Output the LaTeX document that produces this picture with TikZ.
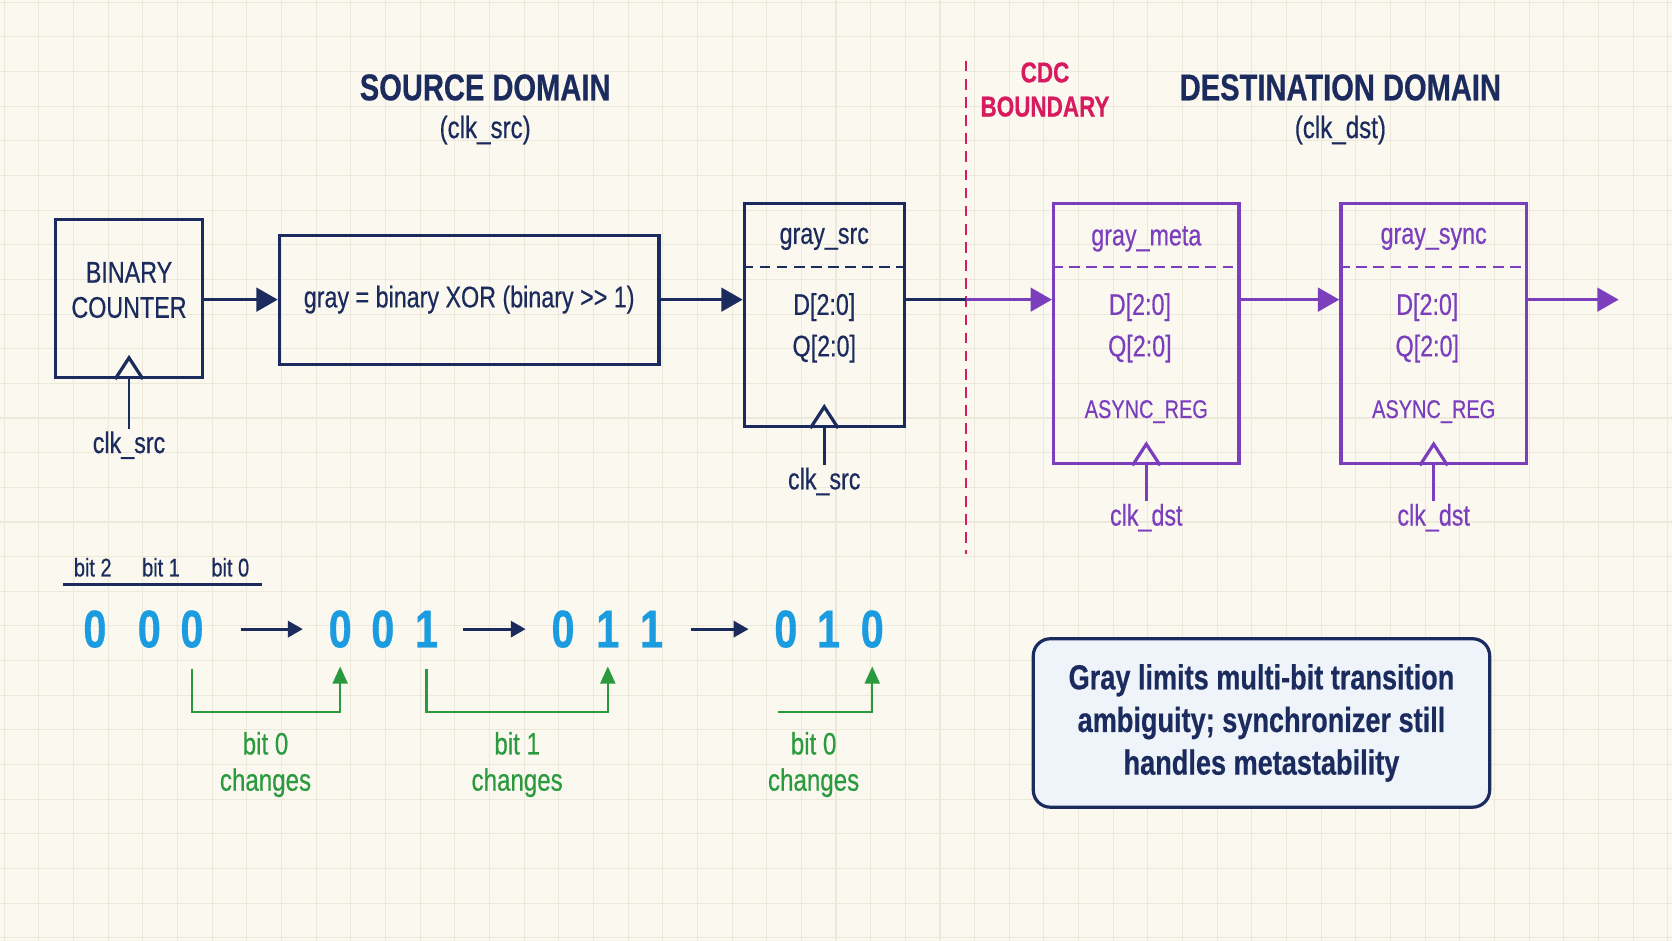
\documentclass[tikz,border=0pt]{standalone}
\usepackage{fontspec}
\setmainfont{Liberation Sans}[FakeStretch=0.78, FakeBold=0.5]
\usepackage{tikz}
\usetikzlibrary{arrows.meta}

\definecolor{navy}{HTML}{1B2B5E}
\definecolor{dstc}{HTML}{7B3FBE}
\definecolor{cdcc}{HTML}{D81B60}
\definecolor{bitc}{HTML}{1B9BE0}
\definecolor{chgc}{HTML}{2B9A3F}
\definecolor{bgc}{HTML}{FBF9EF}
\definecolor{gridc}{HTML}{ECE8DA}
\definecolor{notec}{HTML}{EEF4FA}

\begin{document}
\begin{tikzpicture}[x=0.5pt,y=-0.5pt,
    box/.style={draw=navy, line width=1.5pt, text=navy, inner sep=0pt, align=center, font=\fontsize{14}{16.5}\selectfont},
    reg/.style={box, draw=#1, text=#1}, reg/.default=navy,
    lbl/.style={inner sep=1pt, font=\fontsize{14}{16}\selectfont},
    ttl/.style={text=navy, inner sep=1pt, font=\bfseries\fontsize{17.5}{20}\selectfont},
    sub/.style={text=navy, inner sep=1pt, font=\fontsize{14.5}{17}\selectfont},
    wire/.style={line width=1.5pt, -{Triangle[length=10pt,width=11pt]}},
    digit/.style={text=bitc, inner sep=0pt, font=\bfseries\fontsize{25}{28}\selectfont},
    seqarr/.style={navy, line width=1.5pt, -{Triangle[length=7pt,width=7.5pt]}},
    chg/.style={chgc, line width=1pt, -{Triangle[length=8pt,width=7pt]}},
    chglbl/.style={text=chgc, align=center, inner sep=0pt, font=\fontsize{14.5}{17}\selectfont},
    note/.style={draw=navy, line width=1.5pt, fill=notec, rounded corners=8pt, text=navy, align=center,
        minimum width=214pt, minimum height=79pt, font=\bfseries\fontsize{16.3}{20}\selectfont}]
    % Background
    \useasboundingbox (0,0) rectangle (1568,882);
    \fill[bgc] (0,0) rectangle (1568,882);
    \foreach \g in {0,...,48}
        \draw[gridc, line width=0.5pt] (\g*32.5+4,0) -- (\g*32.5+4,882);
    \foreach \g in {0,...,27}
        \draw[gridc, line width=0.5pt] (0,\g*32.5+2) -- (1568,\g*32.5+2);

    % Titles
    \node[ttl] (srcttl) at (455,82) {SOURCE DOMAIN};
    \node[sub] (srcclk) at (455,122) {(clk\_src)};
    \node[ttl] (dstttl) at (1257,82) {DESTINATION DOMAIN};
    \node[sub] (dstclk) at (1257,122) {(clk\_dst)};
    \node[ttl, text=cdcc, align=center, font=\bfseries\fontsize{13.5}{16}\selectfont] (cdc) at (980,84) {CDC\\BOUNDARY};

    % CDC boundary
    \coordinate (cdctop) at (906,57);
    \coordinate (cdcbot) at (906,520);
    \draw[cdcc, line width=1.2pt, dash pattern=on 5pt off 3.5pt] (cdctop) -- (cdcbot);

    % Source side
    \node[box, minimum width=69pt, minimum height=74pt] (cnt) at (121,280) {};
    \node[box, draw=none] (cnt-txt) at (121,272) {BINARY\\COUNTER};
    \node[box, minimum width=178pt, minimum height=60.5pt] (conv) at (440,281) {gray = binary XOR (binary >{}> 1)};
    \node[reg, minimum width=75pt, minimum height=104.5pt] (gsrc) at (773,295.5) {};
    \draw[navy, line width=1.2pt, dash pattern=on 5pt off 3pt] ([yshift=-30.5pt]gsrc.north west) -- ([yshift=-30.5pt]gsrc.north east);
    \node[lbl, text=navy] (gsrc-name) at (773,224) {gray\_src};
    \node[lbl, text=navy] (gsrc-d) at (773,288) {D[2:0]};
    \node[lbl, text=navy] (gsrc-q) at (773,327) {Q[2:0]};

    % Synchronizer flops
    \foreach \n/\x/\lab in {gmeta/1075/gray\_meta, gsync/1344.5/gray\_sync} {
        \node[reg=dstc, minimum width=87pt, minimum height=122pt] (\n) at (\x,313) {};
        \draw[dstc, line width=1.2pt, dash pattern=on 5pt off 3pt] ([yshift=-30.5pt]\n.north west) -- ([yshift=-30.5pt]\n.north east);
        \node[lbl, text=dstc] (\n-name) at (\x,224) {\lab};
        \node[lbl, text=dstc] (\n-d) at (\x-6,288) {D[2:0]};
        \node[lbl, text=dstc] (\n-q) at (\x-6,327) {Q[2:0]};
        \node[lbl, text=dstc, font=\fontsize{12}{14}\selectfont] (\n-as) at (\x,386) {ASYNC\_REG};
    }

    % Clock pins
    \foreach \b/\c/\lab/\dy in {cnt/navy/clk\_src/31, gsrc/navy/clk\_src/25, gmeta/dstc/clk\_dst/24.5, gsync/dstc/clk\_dst/24.5} {
        \draw[\c, line width=1.5pt] ([xshift=-6.5pt]\b.south) -- ([yshift=10pt]\b.south) -- ([xshift=6.5pt]\b.south);
        \node[lbl, text=\c] (clk\b) at ([yshift=-\dy pt]\b.south) {\lab};
        \draw[\c, line width=1.3pt] (\b.south) -- (clk\b.north);
    }

    % Data path
    \draw[wire, navy] (cnt.east |- conv) -- (conv.west);
    \draw[wire, navy] (conv.east) -- (conv.east -| gsrc.west);
    \draw[navy, line width=1.5pt] (conv.east -| gsrc.east) -- (conv.east -| cdctop);
    \draw[wire, dstc] (conv.east -| cdctop) -- (conv.east -| gmeta.west);
    \draw[wire, dstc] (conv.east -| gmeta.east) -- (conv.east -| gsync.west);
    \coordinate (syncout) at (1518,281);
    \draw[wire, dstc] (conv.east -| gsync.east) -- (syncout);

    % Bit order
    \foreach \n/\x/\lab in {b2/87/bit 2, b1/151/bit 1, b0/216/bit 0}
        \node[lbl, text=navy, font=\fontsize{12}{14}\selectfont] (\n) at (\x,532) {\lab};
    \draw[navy, line width=1.2pt] ([xshift=-4pt,yshift=-2.5pt]b2.south west) -- ([xshift=5pt,yshift=-2.5pt]b0.south east);

    % Gray sequence
    \foreach \d/\x [count=\i] in {0/89, 0/140, 0/180, 0/319, 0/359, 1/400, 0/528, 1/570, 1/611, 0/737, 1/777, 0/818}
        \node[digit] (d\i) at (\x,590) {\d};
    \foreach \a/\b/\s in {3/4/23, 6/7/17, 9/10/18.5}
        \draw[seqarr, shorten <=\s pt, shorten >=17.5pt] (d\a.center) -- (d\b.center);

    % Changed bits
    \draw[chg] ([yshift=-18.5pt]d3.center) -- ++(0,-20.5pt) -| ([yshift=-17.5pt]d4.center);
    \draw[chg] ([yshift=-18.5pt]d6.center) -- ++(0,-20.5pt) -| ([yshift=-17.5pt]d8.center);
    \draw[chg] ([xshift=-3.5pt,yshift=-39pt]d10.center) -| ([yshift=-17.5pt]d12.center);
    \node[chglbl] (chg1) at (249,717) {bit 0\\changes};
    \node[chglbl] (chg2) at (485,717) {bit 1\\changes};
    \node[chglbl] (chg3) at (763,717) {bit 0\\changes};

    % Note
    \node[note] (note) at (1183,678) {Gray limits multi-bit transition\\ambiguity; synchronizer still\\handles metastability};
\end{tikzpicture}
\end{document}
